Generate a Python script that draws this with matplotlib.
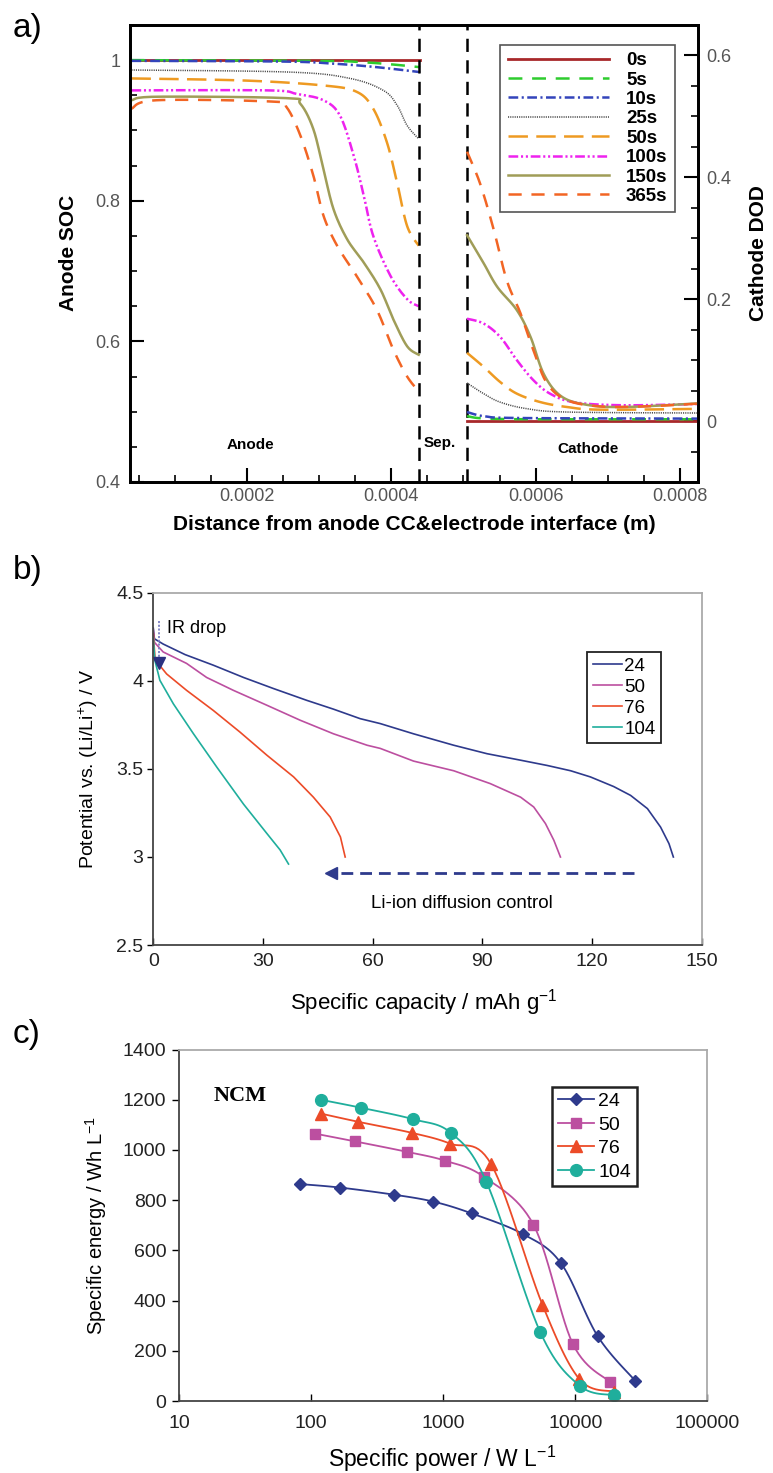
import numpy as np
import matplotlib
matplotlib.use("Agg")
import matplotlib.pyplot as plt
from matplotlib.ticker import MultipleLocator, NullLocator, FixedLocator

plt.rcParams['font.family'] = ['Liberation Sans', 'DejaVu Sans']
plt.rcParams['mathtext.fontset'] = 'custom'
plt.rcParams['mathtext.rm'] = 'Liberation Sans'
plt.rcParams['mathtext.it'] = 'Liberation Sans:italic'
plt.rcParams['lines.scale_dashes'] = False

W, H = 773, 1473

# ---------------- panel a data (x in m) ----------------
times = ['0s', '5s', '10s', '25s', '50s', '100s', '150s', '365s']

anode_x = {
    '0s': [0.00004, 0.00044],
    '5s': [0.00004, 0.0003, 0.00036, 0.0004, 0.00044],
    '10s': [0.00004, 0.00025, 0.00032, 0.00038, 0.00044],
    '25s': [0.00004, 0.00026, 0.000343, 0.000389, 0.000408, 0.000422, 0.000438],
    '50s': [0.00004, 0.000197, 0.000306, 0.000352, 0.000375, 0.000394, 0.000408, 0.000422, 0.000438],
    '100s': [0.00004, 0.00023, 0.000269, 0.000306, 0.000329, 0.000348, 0.000362, 0.000375,
             0.000399, 0.000422, 0.000438],
    '150s': [0.00004, 0.000075, 0.000254, 0.000274, 0.000292, 0.000306, 0.00032, 0.000339,
             0.000362, 0.000385, 0.000403, 0.000422, 0.000438],
    '365s': [0.00004, 0.000075, 0.000237, 0.000255, 0.000274, 0.000292, 0.000306, 0.000325,
             0.000352, 0.00038, 0.000403, 0.000422, 0.000438],
}
anode_soc = {
    '0s': [1.0, 1.0],
    '5s': [1.0, 0.999, 0.997, 0.994, 0.99],
    '10s': [0.999, 0.998, 0.995, 0.99, 0.983],
    '25s': [0.986, 0.983, 0.974, 0.957, 0.936, 0.907, 0.888],
    '50s': [0.974, 0.971, 0.964, 0.955, 0.931, 0.883, 0.826, 0.764, 0.736],
    '100s': [0.957, 0.957, 0.952, 0.943, 0.921, 0.864, 0.807, 0.75, 0.693, 0.66, 0.65],
    '150s': [0.943, 0.948, 0.946, 0.938, 0.902, 0.845, 0.788, 0.745, 0.712, 0.674, 0.631, 0.593, 0.581],
    '365s': [0.931, 0.943, 0.941, 0.933, 0.893, 0.836, 0.779, 0.736, 0.693, 0.645, 0.588, 0.55, 0.529],
}
cathode_x = {
    '0s': [0.000505, 0.000825],
    '5s': [0.000505, 0.00052, 0.00055, 0.0006, 0.000825],
    '10s': [0.000505, 0.00053, 0.00058, 0.000825],
    '25s': [0.000505, 0.000528, 0.000551, 0.000588, 0.000644, 0.000825],
    '50s': [0.000505, 0.000528, 0.000551, 0.000574, 0.000607, 0.000644, 0.00069, 0.000825],
    '100s': [0.000505, 0.000528, 0.000551, 0.000574, 0.000597, 0.00062, 0.000653, 0.00072, 0.000825],
    '150s': [0.000505, 0.000528, 0.000547, 0.000574, 0.000593, 0.000611, 0.000634, 0.000667,
             0.00072, 0.000825],
    '365s': [0.000505, 0.000523, 0.000542, 0.00056, 0.000579, 0.000597, 0.000616, 0.000644,
             0.00069, 0.00075, 0.000825],
}
cathode_dod = {
    '0s': [0.0, 0.0],
    '5s': [0.0082, 0.005, 0.0035, 0.003, 0.003],
    '10s': [0.0148, 0.0077, 0.005, 0.004],
    '25s': [0.0625, 0.045, 0.031, 0.0203, 0.0148, 0.0132],
    '50s': [0.112, 0.089, 0.064, 0.045, 0.031, 0.023, 0.0187, 0.020],
    '100s': [0.168, 0.16, 0.138, 0.10, 0.067, 0.045, 0.031, 0.026, 0.028],
    '150s': [0.305, 0.259, 0.22, 0.182, 0.138, 0.078, 0.042, 0.0275, 0.023, 0.029],
    '365s': [0.442, 0.39, 0.314, 0.231, 0.177, 0.116, 0.0615, 0.034, 0.024, 0.024, 0.0286],
}
sep_x = [0.000438, 0.000505]

# ---------------- panel b data ----------------
cap24 = [0, 0.3, 2.7, 8.7, 16.4, 24.7, 32.9, 42, 49.3, 56.6, 62.1, 71.2, 82.2, 91.3, 100.5,
         107.8, 114.2, 119.6, 126, 130.6, 135.2, 138.8, 141.1, 142.3]
v24 = [4.30, 4.24, 4.21, 4.15, 4.09, 4.02, 3.957, 3.89, 3.84, 3.786, 3.758, 3.70, 3.635, 3.587,
       3.55, 3.52, 3.49, 3.455, 3.40, 3.35, 3.275, 3.17, 3.076, 3.0]
cap50 = [0, 0.3, 2.7, 9.1, 14.6, 21.9, 31.1, 40.2, 49.3, 58.5, 62.1, 71.2, 82.2, 92.2, 100.5,
         104.1, 107.3, 109.6, 111.4]
v50 = [4.29, 4.22, 4.165, 4.10, 4.02, 3.947, 3.862, 3.777, 3.70, 3.635, 3.617, 3.545, 3.49,
       3.417, 3.34, 3.284, 3.19, 3.095, 3.0]
cap76 = [0, 0.5, 3.65, 9.1, 16.4, 23.7, 31.1, 38.4, 43.8, 48.4, 51.2, 52.5]
v76 = [4.27, 4.12, 4.04, 3.947, 3.833, 3.71, 3.578, 3.455, 3.34, 3.227, 3.114, 3.0]
cap104 = [0, 0.4, 1.8, 5.5, 11, 17.4, 24.7, 31.1, 34.7, 37]
v104 = [4.25, 4.12, 4.004, 3.87, 3.70, 3.51, 3.30, 3.133, 3.04, 2.96]

# ---------------- panel c data ----------------
p24 = [82.6, 166, 421, 845, 1648, 4018, 7797, 14760, 28500]
e24 = [864, 850, 822, 794, 747, 665, 549, 259, 80]
p50 = [107, 215, 537, 1035, 2030, 4830, 9600, 18400]
e50 = [1065, 1034, 992, 957, 893, 702, 227, 75]
p76 = [118, 228, 580, 1130, 2310, 5650, 10720, 19500]
e76 = [1145, 1112, 1068, 1025, 943, 383, 88, 37]
p104 = [118, 239, 596, 1144, 2120, 5430, 10800, 19500]
e104 = [1200, 1168, 1122, 1068, 874, 275, 61, 23]

rates = ['24', '50', '76', '104']
NAVY, MAG, RED, TEAL = '#2e3a8c', '#bc4fa0', '#ec4b28', '#1fae9c'


def smooth(xs, ys, n=14):
    # Catmull-Rom path through the points (like a spreadsheet "smoothed line")
    P = np.column_stack([xs, ys]).astype(float)
    P = np.vstack([P[0], P, P[-1]])
    out = []
    t = np.linspace(0, 1, n, endpoint=False)[:, None]
    for i in range(1, len(P) - 2):
        p0, p1, p2, p3 = P[i - 1], P[i], P[i + 1], P[i + 2]
        out.append(0.5 * (2 * p1 + (-p0 + p2) * t + (2 * p0 - 5 * p1 + 4 * p2 - p3) * t ** 2
                          + (-p0 + 3 * p1 - 3 * p2 + p3) * t ** 3))
    out.append(P[-2][None])
    out = np.vstack(out)
    return out[:, 0], out[:, 1]


def box(l, t, r, b):
    return [l / W, 1 - b / H, (r - l) / W, (b - t) / H]


fig = plt.figure(figsize=(W / 100, H / 100), dpi=100)

# ================= panel a =================
ax = fig.add_axes(box(130, 25, 698, 482))
ax2 = ax.twinx()
styles = {
    '0s': dict(color='#a8282a', ls='-', lw=2.0),
    '5s': dict(color='#2ecc2e', dashes=(10, 7), lw=1.8),
    '10s': dict(color='#3344bb', dashes=(7, 2.5, 1.5, 2.5), lw=1.8),
    '25s': dict(color='#444444', dashes=(0.8, 0.8), lw=1.1),
    '50s': dict(color='#ee9a22', dashes=(14, 6), lw=1.8),
    '100s': dict(color='#ee22ee', dashes=(7, 2, 1.5, 2, 1.5, 2), lw=1.8),
    '150s': dict(color='#a09d58', ls='-', lw=1.8),
    '365s': dict(color='#f26524', dashes=(9.5, 7), lw=1.8),
}
handles = []
for t in times:
    xa, ya = smooth(anode_x[t], anode_soc[t])
    h, = ax.plot(xa, ya, label=t, **styles[t])
    handles.append(h)
    xc, yc = smooth(cathode_x[t], cathode_dod[t])
    ax2.plot(xc, yc, **styles[t])
for sx in sep_x:
    ax.axvline(sx, color='black', lw=1.8, dashes=(9.5, 6))

ax.set_xlim(0.000038, 0.000825)
ax.set_ylim(0.4, 1.05)
ax2.set_ylim(-0.1, 0.65)
ax.set_xticks([0.0002, 0.0004, 0.0006, 0.0008], ['0.0002', '0.0004', '0.0006', '0.0008'])
ax.xaxis.set_minor_locator(MultipleLocator(0.00005))
ax.set_yticks([0.4, 0.6, 0.8, 1.0], ['0.4', '0.6', '0.8', '1'])
ax.yaxis.set_minor_locator(MultipleLocator(0.05))
ax2.set_yticks([0, 0.2, 0.4, 0.6], ['0', '0.2', '0.4', '0.6'])
ax2.yaxis.set_minor_locator(MultipleLocator(0.05))
ax.tick_params(axis='both', which='major', direction='in', length=10, width=1.5,
               labelsize=13, labelcolor='#555555')
ax.tick_params(axis='both', which='minor', direction='in', length=5, width=1.2)
ax.tick_params(axis='y', which='major', pad=7)
ax.tick_params(axis='x', which='major', pad=4)
ax2.tick_params(axis='y', which='major', direction='in', length=10, width=1.5,
                labelsize=13, labelcolor='#555555', pad=6)
ax2.tick_params(axis='y', which='minor', direction='in', length=5, width=1.2)
for a in (ax, ax2):
    for s in a.spines.values():
        s.set_linewidth(2.0)

ax.text(0.000205, 0.452, 'Anode', fontsize=11, fontweight='bold', ha='center', va='center')
ax.text(0.000467, 0.455, 'Sep.', fontsize=11, fontweight='bold', ha='center', va='center')
ax.text(0.000673, 0.447, 'Cathode', fontsize=11, fontweight='bold', ha='center', va='center')

leg = ax.legend(handles=handles, loc='upper right', bbox_to_anchor=(0.9595, 0.957),
                prop={'weight': 'bold', 'size': 13.5}, handlelength=5.4, handletextpad=0.9,
                labelspacing=0.12, borderpad=0.4, borderaxespad=0, fancybox=False,
                framealpha=1)
leg.get_frame().set_edgecolor('#555555')
leg.get_frame().set_linewidth(1.2)

fig.text(414 / W, 1 - 525 / H, 'Distance from anode CC&electrode interface (m)',
         fontsize=15, fontweight='bold', ha='center', va='center')
fig.text(68 / W, 1 - 253 / H, 'Anode SOC', fontsize=15, fontweight='bold',
         rotation=90, ha='center', va='center')
fig.text(758 / W, 1 - 253 / H, 'Cathode DOD', fontsize=15, fontweight='bold',
         rotation=90, ha='center', va='center')

# ================= panel b =================
bx = fig.add_axes(box(153.3, 593, 701.5, 945))
for cap, v, c, lab in zip([cap24, cap50, cap76, cap104], [v24, v50, v76, v104],
                          [NAVY, MAG, RED, TEAL], rates):
    bx.plot(cap, v, color=c, lw=1.2, label=lab)

# IR drop marker
bx.plot([1.5, 1.5], [4.34, 4.13], color='#7b7fc4', lw=1.3, dashes=(1.5, 1.2))
bx.plot([1.5], [4.105], marker='v', ms=8, color='#2b3180', ls='none')
bx.text(3.7, 4.30, 'IR drop', fontsize=13, ha='left', va='center')
# Li-ion diffusion arrow
bx.plot([131.5, 50.5], [2.91, 2.91], color='#2e3a8c', lw=2.0, dashes=(8.5, 5))
bx.plot([48.5], [2.91], marker='<', ms=9, color='#2e3a8c', ls='none')
bx.text(84.5, 2.735, 'Li-ion diffusion control', fontsize=13.5, ha='center', va='center')

bx.set_xlim(0, 150)
bx.set_ylim(2.5, 4.5)
bx.set_xticks([0, 30, 60, 90, 120, 150])
bx.set_yticks([2.5, 3, 3.5, 4, 4.5], ['2.5', '3', '3.5', '4', '4.5'])
bx.tick_params(axis='x', direction='in', length=5, width=1, labelsize=14, pad=6,
               labelcolor='#222222')
bx.tick_params(axis='y', direction='out', length=4, width=1, labelsize=14, pad=3,
               labelcolor='#222222')
bx.spines['left'].set_color('#444444')
bx.spines['bottom'].set_color('#444444')
bx.spines['top'].set_color('#aaaaaa')
bx.spines['right'].set_color('#aaaaaa')
for s in bx.spines.values():
    s.set_linewidth(1.3)

leg = bx.legend(loc='upper left', bbox_to_anchor=(0.791, 0.832), fontsize=13.5,
                handlelength=1.55, handletextpad=0.15, labelspacing=0.2, borderpad=0.3,
                borderaxespad=0, fancybox=False, framealpha=1)
leg.get_frame().set_edgecolor('#222222')
leg.get_frame().set_linewidth(1.3)

fig.text(88 / W, 1 - 769 / H, 'Potential vs. (Li/Li$^{+}$) / V', fontsize=14,
         rotation=90, ha='center', va='center')
fig.text(424 / W, 1 - 1003 / H, 'Specific capacity / mAh g$^{-1}$', fontsize=16,
         ha='center', va='center')

# ================= panel c =================
cx = fig.add_axes(box(179, 1049.5, 707.3, 1401))
series = [(p24, e24, NAVY, 'D', 6.5), (p50, e50, MAG, 's', 7.5),
          (p76, e76, RED, '^', 8.5), (p104, e104, TEAL, 'o', 8.5)]
for (p, e, c, m, ms), lab in zip(series, rates):
    lx, ly = smooth(np.log10(p), e)
    cx.plot(10 ** lx, ly, color=c, lw=1.3)
    cx.plot(p, e, ls='none', marker=m, ms=ms, color=c)
    cx.plot([], [], color=c, lw=1.3, marker=m, ms=ms, label=lab)

cx.set_xscale('log')
cx.set_xlim(10, 100000)
cx.set_ylim(0, 1400)
cx.xaxis.set_major_locator(FixedLocator([10, 100, 1000, 10000, 100000]))
cx.set_xticklabels(['10', '100', '1000', '10000', '100000'])
cx.xaxis.set_minor_locator(NullLocator())
cx.set_yticks(range(0, 1401, 200))
cx.tick_params(axis='x', direction='in', length=5, width=1, labelsize=14, pad=10,
               labelcolor='#222222')
cx.tick_params(axis='y', direction='out', length=5, width=1, labelsize=14, pad=4,
               labelcolor='#222222')
cx.spines['left'].set_color('#444444')
cx.spines['bottom'].set_color('#444444')
cx.spines['top'].set_color('#aaaaaa')
cx.spines['right'].set_color('#aaaaaa')
for s in cx.spines.values():
    s.set_linewidth(1.3)

cx.text(29, 1213, 'NCM', fontsize=16, fontweight='bold', family='Liberation Serif',
        ha='center', va='center')

leg = cx.legend(loc='upper left', bbox_to_anchor=(0.7055, 0.894), fontsize=14,
                handlelength=1.9, handletextpad=0.2, labelspacing=0.3, borderpad=0.3,
                borderaxespad=0, fancybox=False, framealpha=1)
leg.get_frame().set_edgecolor('#222222')
leg.get_frame().set_linewidth(1.8)

fig.text(96 / W, 1 - 1225 / H, 'Specific energy / Wh L$^{-1}$', fontsize=14.5,
         rotation=90, ha='center', va='center')
fig.text(442 / W, 1 - 1459 / H, 'Specific power / W L$^{-1}$', fontsize=16.5,
         ha='center', va='center')

# panel letters
for lab, y in [('a)', 28), ('b)', 571), ('c)', 1035)]:
    fig.text(13 / W, 1 - y / H, lab, fontsize=24, ha='left', va='center')

fig.savefig('out.png', dpi=100)
